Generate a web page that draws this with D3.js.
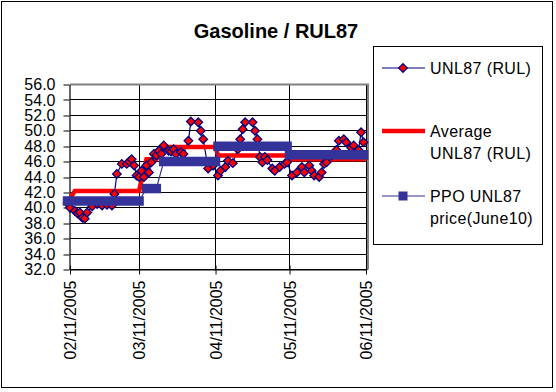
<!DOCTYPE html>
<html>
<head>
<meta charset="utf-8">
<script src="https://cdn.jsdelivr.net/npm/d3@7"></script>
<style>
  body { margin: 0; background: #fff; }
  text { font-family: "Liberation Sans", Arial, sans-serif; fill: #000; }
</style>
</head>
<body>
<svg id="chart" width="556" height="392"></svg>
<script>
// UNL87 (RUL) daily prices
const rulDates = [
  "2005-02-10","2005-02-11","2005-02-13","2005-02-14","2005-02-15","2005-02-16","2005-02-17","2005-02-18",
  "2005-02-20","2005-02-22","2005-02-24","2005-02-26","2005-02-28","2005-03-01","2005-03-02","2005-03-04",
  "2005-03-06","2005-03-07","2005-03-08","2005-03-09","2005-03-10","2005-03-11","2005-03-12","2005-03-13",
  "2005-03-14","2005-03-15","2005-03-16","2005-03-17","2005-03-18","2005-03-19","2005-03-20","2005-03-21",
  "2005-03-23","2005-03-24","2005-03-25","2005-03-26","2005-03-28","2005-03-29","2005-03-31","2005-04-01",
  "2005-04-04","2005-04-05","2005-04-06","2005-04-08","2005-04-10","2005-04-12","2005-04-13","2005-04-15",
  "2005-04-16","2005-04-18","2005-04-20","2005-04-21","2005-04-22","2005-04-23","2005-04-26","2005-04-27",
  "2005-04-28","2005-04-29","2005-04-30","2005-05-01","2005-05-02","2005-05-04","2005-05-05","2005-05-07",
  "2005-05-09","2005-05-10","2005-05-12","2005-05-14","2005-05-16","2005-05-17","2005-05-19","2005-05-20",
  "2005-05-21","2005-05-23","2005-05-24","2005-05-25","2005-05-26","2005-05-28","2005-05-30","2005-05-31",
  "2005-06-02","2005-06-03","2005-06-05","2005-06-06","2005-06-08","2005-06-09","2005-06-10"
];
const rulValues = [
  40.6, 40.0, 39.6, 39.3, 39.4, 38.7, 38.6, 39.4,
  40.2, 40.5, 40.3, 40.4, 40.3, 41.8, 44.4, 45.7,
  45.7, 46.0, 46.3, 45.5, 44.2, 44.0, 44.8, 44.0,
  45.5, 44.6, 45.9, 47.0, 46.8, 47.4, 47.0, 48.1,
  47.4, 47.3, 47.6, 47.0, 47.2, 47.0, 48.7, 51.2,
  51.1, 50.0, 48.9, 45.1, 45.5, 44.2, 44.8, 45.3,
  46.1, 45.8, 47.6, 48.9, 50.2, 51.1, 51.1, 50.0,
  48.9, 46.6, 45.9, 46.6, 46.2, 45.1, 44.8, 45.3,
  45.7, 45.9, 44.2, 44.6, 45.3, 44.6, 45.5, 44.8,
  44.2, 44.0, 44.6, 45.7, 45.9, 46.8, 47.5, 48.7,
  48.9, 48.5, 47.8, 48.1, 47.5, 49.8, 48.5
];

// Average UNL87 (RUL) per pricing period
const avgDates = ["2005-02-10","2005-02-13","2005-03-11","2005-03-14","2005-03-18","2005-03-21",
                  "2005-04-11","2005-04-12","2005-05-10","2005-05-11","2005-06-10"];
const avgValues = [40.7, 42.2, 42.2, 46.3, 46.3, 47.9, 47.9, 46.8, 46.8, 46.3, 46.3];

// PPO UNL87 price (June10) periods
const ppoStart = ["2005-02-10","2005-03-14","2005-03-21","2005-04-12","2005-05-11"];
const ppoEnd   = ["2005-03-11","2005-03-18","2005-04-11","2005-05-10","2005-06-10"];
const ppoValues = [40.9, 42.5, 46.0, 48.0, 46.9];

const yTicks = [32, 34, 36, 38, 40, 42, 44, 46, 48, 50, 52, 54, 56];
const xTicks = ["2005-02-11","2005-03-11","2005-04-11","2005-05-11","2005-06-11"];
const legendLabels = [["UNL87 (RUL)"], ["Average", "UNL87 (RUL)"], ["PPO UNL87", "price(June10)"]];

const parse = d3.timeParse("%Y-%m-%d");
const fmt = d3.timeFormat("%m/%d/%Y");

const svg = d3.select("#chart");
const plotL = 70, plotR = 366, plotT = 84.5, plotB = 269.5;

const x = d3.scaleTime().domain([parse(xTicks[0]), parse(xTicks[xTicks.length - 1])]).range([plotL, plotR]);
const y = d3.scaleLinear().domain([32, 56]).range([plotB, plotT]);
const snap = v => Math.round(v - 0.5) + 0.5;

// chart area border
svg.append("rect")
  .attr("x", 1.5).attr("y", 1.5).attr("width", 551).attr("height", 386)
  .attr("fill", "#fff").attr("stroke", "#000");

// title
svg.append("text")
  .attr("x", 276).attr("y", 38)
  .attr("text-anchor", "middle")
  .style("font-size", "20px").style("font-weight", "bold")
  .text("Gasoline / RUL87");

// gridlines
svg.append("g").selectAll("line").data(yTicks).join("line")
  .attr("x1", plotL).attr("x2", plotR + 2)
  .attr("y1", d => snap(y(d))).attr("y2", d => snap(y(d)))
  .attr("stroke", "#000");
svg.append("g").selectAll("line").data(xTicks.slice(1)).join("line")
  .attr("x1", d => snap(x(parse(d)))).attr("x2", d => snap(x(parse(d))))
  .attr("y1", plotT).attr("y2", plotB)
  .attr("stroke", "#000");

// plot area border (grey top and right)
svg.append("path")
  .attr("d", `M${plotL},${plotT} H${plotR + 2} V${plotB}`)
  .attr("fill", "none").attr("stroke", "#808080").attr("stroke-width", 2);

// axes
const yAxis = svg.append("g")
  .attr("transform", `translate(${plotL - 0.5},0)`)
  .call(d3.axisLeft(y).tickValues(yTicks).tickFormat(d3.format(".1f")).tickSize(6).tickPadding(8).tickSizeOuter(0));
yAxis.selectAll(".tick line").attr("transform", d => `translate(0,${snap(y(d)) - y(d)})`);
yAxis.selectAll("text").style("font-size", "16px").attr("fill", "#000");
yAxis.select(".domain").attr("stroke-width", 1.2);

const xAxis = svg.append("g")
  .attr("transform", `translate(0,${snap(plotB)})`)
  .call(d3.axisBottom(x).tickValues(xTicks.map(parse)).tickFormat(fmt).tickSizeOuter(0));
xAxis.selectAll(".tick line").attr("y1", -4).attr("y2", 5);
xAxis.selectAll("text")
  .style("font-size", "16px")
  .attr("transform", "rotate(-90)")
  .attr("x", -11).attr("y", 0).attr("dy", "0.36em")
  .attr("text-anchor", "end");

// series data
const rul = rulDates.map((d, i) => ({ date: parse(d), value: rulValues[i] }));
const avg = avgDates.map((d, i) => ({ date: parse(d), value: avgValues[i] }));
const ppo = ppoValues.map((v, i) => ({ start: parse(ppoStart[i]), end: parse(ppoEnd[i]), value: v }));

const line = d3.line().x(d => x(d.date)).y(d => y(d.value));

// lines first (as Excel draws them), then markers
svg.append("path").datum(rul)
  .attr("d", line)
  .attr("fill", "none").attr("stroke", "#000080").attr("stroke-width", 1.2);

svg.append("path").datum(avg)
  .attr("d", line)
  .attr("fill", "none").attr("stroke", "#ff0000").attr("stroke-width", 4.5).attr("stroke-linecap", "square");

// thin connectors between PPO periods
const ppoPts = [];
ppo.forEach(p => { ppoPts.push({ date: p.start, value: p.value }); ppoPts.push({ date: p.end, value: p.value }); });
svg.append("path").datum(ppoPts)
  .attr("d", line)
  .attr("fill", "none").attr("stroke", "#333399").attr("stroke-width", 1.2);

const diamond = "M0,-4.3L4.3,0L0,4.3L-4.3,0Z";
svg.append("g").selectAll("path").data(rul).join("path")
  .attr("d", diamond)
  .attr("transform", d => `translate(${x(d.date)},${y(d.value)})`)
  .attr("fill", "#ff0000").attr("stroke", "#000080").attr("stroke-width", 1.3);

// PPO square markers merge into thick bars
svg.append("g").selectAll("line").data(ppo).join("line")
  .attr("x1", d => x(d.start)).attr("x2", d => x(d.end))
  .attr("y1", d => y(d.value)).attr("y2", d => y(d.value))
  .attr("stroke", "#333399").attr("stroke-width", 9.5).attr("stroke-linecap", "square");

// legend
const legend = svg.append("g");
legend.append("rect")
  .attr("x", 373.5).attr("y", 46.5).attr("width", 169).attr("height", 198)
  .attr("fill", "#fff").attr("stroke", "#000");

const legY = [68, 131, 196];
const lx1 = 382, lx2 = 425, lxm = 403;

legend.append("line").attr("x1", lx1).attr("x2", lx2).attr("y1", legY[0]).attr("y2", legY[0])
  .attr("stroke", "#000080").attr("stroke-width", 1.2);
legend.append("path").attr("d", diamond).attr("transform", `translate(${lxm},${legY[0]})`)
  .attr("fill", "#ff0000").attr("stroke", "#000080").attr("stroke-width", 1.3);

legend.append("line").attr("x1", lx1).attr("x2", lx2).attr("y1", legY[1]).attr("y2", legY[1])
  .attr("stroke", "#ff0000").attr("stroke-width", 4.5);

legend.append("line").attr("x1", lx1).attr("x2", lx2).attr("y1", legY[2]).attr("y2", legY[2])
  .attr("stroke", "#333399").attr("stroke-width", 1.2);
legend.append("rect").attr("x", lxm - 4.5).attr("y", legY[2] - 4.5).attr("width", 9).attr("height", 9)
  .attr("fill", "#333399");

legendLabels.forEach((lines, i) => {
  lines.forEach((t, j) => {
    legend.append("text")
      .attr("x", 430).attr("y", legY[i] + 5.5 + j * 22.6)
      .style("font-size", "16px").style("letter-spacing", "0.4px")
      .text(t);
  });
});
</script>
</body>
</html>
